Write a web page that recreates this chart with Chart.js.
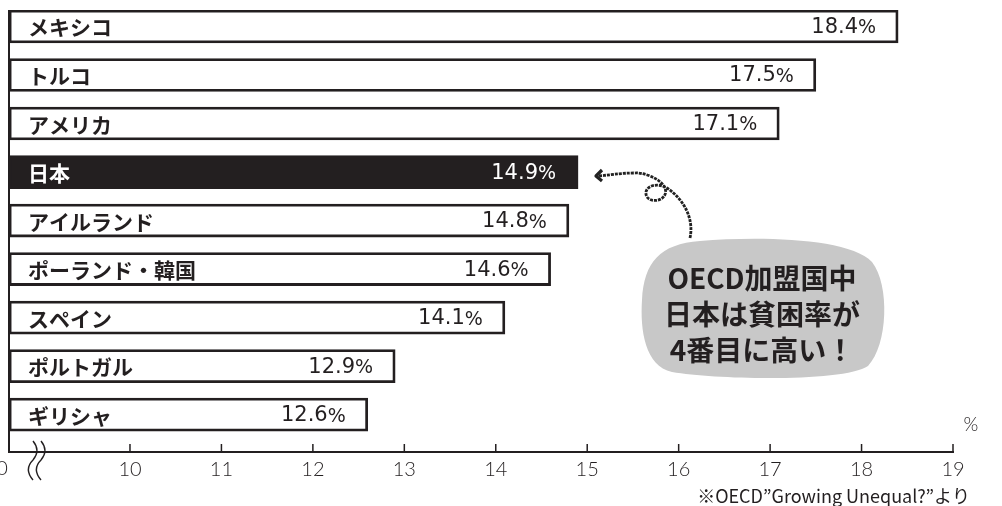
<!DOCTYPE html>
<html>
<head>
<meta charset="utf-8">
<script src="https://cdn.jsdelivr.net/npm/chart.js@4.4.1/dist/chart.umd.min.js"></script>
<style>
  html, body { margin: 0; padding: 0; background: #fff; }
  #wrap { width: 1002px; height: 506px; }
</style>
</head>
<body>
<div id="wrap"><canvas id="povertyChart"></canvas></div>
<script>
const countries = ['メキシコ', 'トルコ', 'アメリカ', '日本', 'アイルランド', 'ポーランド・韓国', 'スペイン', 'ポルトガル', 'ギリシャ'];
const rates = [18.4, 17.5, 17.1, 14.9, 14.8, 14.6, 14.1, 12.9, 12.6];
const tickValues = [10, 11, 12, 13, 14, 15, 16, 17, 18, 19];
const highlight = '日本';
const bubbleLines = ['OECD加盟国中', '日本は貧困率が', '4番目に高い！'];
const sourceNote = '※OECD”Growing Unequal?”より';

const axisStart = 8.677; // broken axis: 0 then jump to ~8.7
const ink = '#231f20';
const jpFont = '"Noto Sans CJK JP", "Noto Sans", sans-serif';
const numFont = '"DejaVu Sans", sans-serif';
const tickFont = 'Lato, "DejaVu Sans", sans-serif';

// labels inside bars, tick marks, break mark, bubble, arrow, notes
const decorations = {
  id: 'decorations',
  afterDatasetsDraw(chart) {
    const ctx = chart.ctx;
    const area = chart.chartArea;
    const xs = chart.scales.x;
    const meta = chart.getDatasetMeta(0);
    ctx.save();

    // left axis line
    ctx.strokeStyle = ink;
    ctx.lineWidth = 2;
    ctx.beginPath();
    ctx.moveTo(area.left, area.top);
    ctx.lineTo(area.left, area.bottom);
    ctx.stroke();

    meta.data.forEach((bar, i) => {
      const dark = countries[i] === highlight;
      ctx.fillStyle = dark ? '#fff' : ink;
      ctx.textBaseline = 'middle';
      ctx.textAlign = 'left';
      ctx.font = 'bold 21px ' + jpFont;
      ctx.fillText(countries[i], area.left + 19, bar.y + 1);

      const num = rates[i].toFixed(1);
      ctx.font = '19px ' + numFont;
      const pw = ctx.measureText('%').width;
      ctx.textAlign = 'right';
      ctx.fillText('%', bar.x - 22, bar.y + 2);
      ctx.font = '21px ' + numFont;
      ctx.fillText(num, bar.x - 22 - pw, bar.y + 1);
    });

    // inward tick marks
    ctx.strokeStyle = ink;
    ctx.lineWidth = 1.5;
    tickValues.forEach(v => {
      const px = xs.getPixelForValue(v);
      ctx.beginPath();
      ctx.moveTo(px, area.bottom);
      ctx.lineTo(px, area.bottom - 8);
      ctx.stroke();
    });

    // "0" at the broken start and the break mark
    ctx.fillStyle = ink;
    ctx.font = '300 20px ' + tickFont;
    ctx.textAlign = 'center';
    ctx.textBaseline = 'middle';
    ctx.fillText('0', area.left - 7, 469);
    ctx.lineWidth = 1.4;
    [area.left + 24, area.left + 32].forEach(bx => {
      ctx.beginPath();
      ctx.moveTo(bx, 441);
      ctx.bezierCurveTo(bx + 5, 447, bx + 5, 454, bx, 460);
      ctx.bezierCurveTo(bx - 6, 466, bx - 6, 473, bx, 480);
      ctx.stroke();
    });

    // unit
    ctx.font = '300 19px ' + tickFont;
    ctx.fillText('%', 971, 425);

    // source
    ctx.font = '18px ' + jpFont;
    ctx.textAlign = 'right';
    ctx.fillText(sourceNote, 970, 496);

    // speech bubble
    ctx.fillStyle = '#c8c8c8';
    ctx.beginPath();
    ctx.moveTo(700, 241);
    ctx.bezierCurveTo(760, 236, 850, 238, 872, 262);
    ctx.bezierCurveTo(890, 285, 888, 345, 868, 366);
    ctx.bezierCurveTo(845, 382, 720, 380, 672, 372);
    ctx.bezierCurveTo(645, 366, 640, 330, 642, 300);
    ctx.bezierCurveTo(644, 262, 660, 244, 700, 241);
    ctx.fill();
    ctx.fillStyle = ink;
    ctx.font = 'bold 28px ' + jpFont;
    ctx.textAlign = 'center';
    bubbleLines.forEach((t, k) => ctx.fillText(t, 762, 278 + k * 36));

    // hand-drawn arrow toward Japan's bar
    ctx.strokeStyle = '#222';
    ctx.lineWidth = 2.8;
    ctx.setLineDash([3, 1]);
    ctx.beginPath();
    ctx.moveTo(690, 238);
    ctx.bezierCurveTo(694, 220, 685, 200, 667, 188);
    ctx.bezierCurveTo(655, 181, 642, 188, 647, 197);
    ctx.bezierCurveTo(652, 204, 669, 200, 665, 188);
    ctx.bezierCurveTo(660, 177, 640, 172, 635, 173);
    ctx.bezierCurveTo(620, 173, 610, 175, 599, 176);
    ctx.stroke();
    ctx.setLineDash([]);
    ctx.lineWidth = 3.2;
    ctx.lineJoin = 'round';
    ctx.beginPath();
    ctx.moveTo(602, 170);
    ctx.lineTo(596, 176);
    ctx.lineTo(602, 181);
    ctx.stroke();

    ctx.restore();
  }
};

const ctx = document.getElementById('povertyChart').getContext('2d');
new Chart(ctx, {
  type: 'bar',
  data: {
    datasets: [{
      data: rates.map((v, i) => ({ x: v, y: i })),
      backgroundColor: countries.map(c => c === highlight ? ink : '#fff'),
      borderColor: ink,
      borderWidth: 2.8,
      borderSkipped: false,
      barThickness: 33,
      base: axisStart
    }]
  },
  options: {
    indexAxis: 'y',
    responsive: true,
    maintainAspectRatio: false,
    animation: false,
    layout: { padding: { left: 9, right: 49, top: 10, bottom: 18 } },
    plugins: { legend: { display: false }, tooltip: { enabled: false } },
    scales: {
      x: {
        type: 'linear',
        min: axisStart,
        max: 19,
        afterBuildTicks: scale => { scale.ticks = tickValues.map(v => ({ value: v })); },
        grid: { display: false, drawTicks: false },
        border: { display: true, color: ink, width: 2 },
        ticks: { padding: 6, color: ink, font: { family: tickFont, size: 20, weight: 300 } }
      },
      y: {
        type: 'linear', reverse: true, min: -0.34, max: 8.77, display: false,
        offset: false, grid: { offset: false }
      }
    }
  },
  plugins: [decorations]
});
</script>
</body>
</html>
